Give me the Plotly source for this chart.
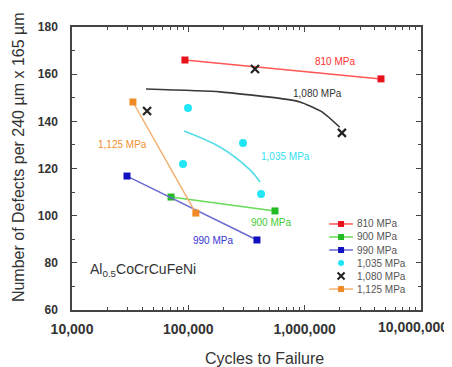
import math
import plotly.graph_objects as go

# ---- data ----
red_x = [93500, 4530000]
red_y = [166.0, 158.0]
green_x = [71000, 556000]
green_y = [107.9, 102.0]
blue_x = [29700, 389000]
blue_y = [116.8, 89.7]
cyan_x = [99300, 90000, 295000, 422000]
cyan_y = [145.7, 121.9, 130.8, 109.2]
cross_x = [44200, 374000, 2090000]
cross_y = [144.4, 162.2, 135.1]
orange_x = [33400, 116000]
orange_y = [148.2, 101.1]
# fitted trend curves drawn in the reference
black_curve_x = [43300, 187000, 339000, 678000, 912000, 1410000, 2000000]
black_curve_y = [153.7, 152.5, 151.2, 149.4, 148.2, 144.0, 137.5]
cyan_curve_x = [91800, 187000, 339000, 413000]
cyan_curve_y = [135.9, 129.1, 119.4, 114.3]

x_tickvals = [1e4, 1e5, 1e6, 1e7]
x_ticktext = ["10,000", "100,000", "1,000,000", "10,000,000"]
y_tickvals = [60, 80, 100, 120, 140, 160, 180]

legend_names = ["810 MPa", "900 MPa", "990 MPa", "1,035 MPa", "1,080 MPa", "1,125 MPa"]

FONT = "Liberation Sans, Arial, sans-serif"
RED_L, RED_M, RED_T = "#ff5555", "#e8101a", "#ff3030"
GRN_L, GRN_M, GRN_T = "#66dd55", "#22bb22", "#44cc33"
BLU_L, BLU_M, BLU_T = "#6a6ad0", "#1010c0", "#3535d5"
CYN_L, CYN_M, CYN_T = "#55dde8", "#22e6f5", "#33e0f0"
BLK_L, BLK_M, BLK_T = "#3a3a3a", "#222222", "#333333"
ORG_L, ORG_M, ORG_T = "#f5b070", "#f08a24", "#f09030"

fig = go.Figure()

def line_marker(x, y, lc, mc, sym="square", size=7):
    fig.add_trace(go.Scatter(x=x, y=y, mode="lines+markers",
                             line=dict(color=lc, width=1.5),
                             marker=dict(symbol=sym, size=size, color=mc),
                             showlegend=False))

line_marker(red_x, red_y, RED_L, RED_M)
line_marker(green_x, green_y, GRN_L, GRN_M)
line_marker(blue_x, blue_y, BLU_L, BLU_M)
line_marker(orange_x, orange_y, ORG_L, ORG_M)

fig.add_trace(go.Scatter(x=black_curve_x, y=black_curve_y, mode="lines",
                         line=dict(color=BLK_L, width=1.6, shape="spline", smoothing=0.6),
                         showlegend=False))
fig.add_trace(go.Scatter(x=cyan_curve_x, y=cyan_curve_y, mode="lines",
                         line=dict(color=CYN_L, width=1.6, shape="spline"),
                         showlegend=False))
fig.add_trace(go.Scatter(x=cyan_x, y=cyan_y, mode="markers",
                         marker=dict(symbol="circle", size=8, color=CYN_M),
                         showlegend=False))
fig.add_trace(go.Scatter(x=cross_x, y=cross_y, mode="markers",
                         marker=dict(symbol="x-thin", size=8,
                                     line=dict(color=BLK_M, width=2.2)),
                         showlegend=False))

# ---- manual compact legend (on an overlay axis spanning the plot area) ----
leg_specs = [
    (legend_names[0], RED_L, RED_M, "square", True),
    (legend_names[1], GRN_L, GRN_M, "square", True),
    (legend_names[2], BLU_L, BLU_M, "square", True),
    (legend_names[3], None, CYN_M, "circle", False),
    (legend_names[4], None, BLK_M, "x-thin", False),
    (legend_names[5], ORG_L, ORG_M, "square", True),
]
leg_top, leg_step = 0.304, 0.046
sym_x, line_x0, line_x1, text_x = 0.771, 0.737, 0.805, 0.812
for i, (name, lc, mc, sym, has_line) in enumerate(leg_specs):
    yy = leg_top - i * leg_step
    if has_line:
        fig.add_trace(go.Scatter(x=[line_x0, line_x1], y=[yy, yy], mode="lines",
                                 line=dict(color=lc, width=1.5),
                                 xaxis="x2", yaxis="y2", showlegend=False,
                                 hoverinfo="skip"))
    mk = dict(symbol=sym, size=6, color=mc)
    if sym == "x-thin":
        mk = dict(symbol=sym, size=7, line=dict(color=mc, width=2))
    fig.add_trace(go.Scatter(x=[sym_x], y=[yy], mode="markers", marker=mk,
                             xaxis="x2", yaxis="y2", showlegend=False,
                             hoverinfo="skip"))
    fig.add_annotation(x=text_x, y=yy, xref="x2", yref="y2", text=name,
                       showarrow=False, xanchor="left", yanchor="middle",
                       font=dict(family=FONT, size=10, color="#555555"))

# ---- in-plot labels ----
def lab(xv, yv, text, color, size=10, anchor="center"):
    fig.add_annotation(x=math.log10(xv), y=yv, xref="x", yref="y", text=text,
                       showarrow=False, xanchor=anchor, yanchor="middle",
                       font=dict(family=FONT, size=size, color=color))

lab(1.82e6, 165.2, "810 MPa", RED_T)
lab(1.30e6, 151.6, "1,080 MPa", BLK_T)
lab(6.78e5, 124.9, "1,035 MPa", CYN_T)
lab(2.74e4, 130.0, "1,125 MPa", ORG_T)
lab(5.14e5, 96.9, "900 MPa", GRN_T)
lab(1.63e5, 89.3, "990 MPa", BLU_T)
lab(1.37e4, 77.0, "Al<sub>0.5</sub>CoCrCuFeNi", "#333333", size=14, anchor="left")

TICKFONT_X = dict(family=FONT, size=14, color="#333333", weight="bold")

# last x tick label is pushed inside the page edge, as in the reference
fig.add_annotation(x=1.083, y=-0.06, xref="paper", yref="paper",
                   text=x_ticktext[-1], showarrow=False,
                   xanchor="right", yanchor="middle", font=TICKFONT_X)

# axis titles
fig.add_annotation(x=0.553, y=-0.17, xref="paper", yref="paper",
                   text="Cycles to Failure", showarrow=False,
                   xanchor="center", yanchor="middle",
                   font=dict(family=FONT, size=16, color="#333333"))
fig.add_annotation(x=-0.155, y=0.54, xref="paper", yref="paper",
                   text="Number of Defects per 240 µm x 165 µm", showarrow=False,
                   textangle=-90, xanchor="center", yanchor="middle",
                   font=dict(family=FONT, size=16, color="#333333"))

axis_common = dict(showline=True, linecolor="#444444", linewidth=1.5,
                   mirror="ticks", ticks="inside", tickcolor="#444444",
                   showgrid=False, zeroline=False)

fig.update_layout(
    width=444, height=359,
    margin=dict(l=64, r=31, t=19, b=57),
    paper_bgcolor="white", plot_bgcolor="white",
    showlegend=False,
    xaxis=dict(type="log", range=[4, 7], tickvals=x_tickvals[:-1],
               ticktext=x_ticktext[:-1],
               ticklen=5, ticklabelstandoff=5,
               tickfont=TICKFONT_X,
               minor=dict(ticks="inside", ticklen=3, tickcolor="#444444",
                          tickvals=[k * 10 ** d for d in (4, 5, 6) for k in range(2, 10)]),
               **axis_common),
    yaxis=dict(range=[60, 180], tickvals=y_tickvals, ticklen=5,
               ticklabelstandoff=10,
               tickfont=dict(family=FONT, size=12, color="#333333", weight="bold"),
               minor=dict(ticks="inside", ticklen=3, dtick=10, tickcolor="#444444"),
               **axis_common),
    xaxis2=dict(overlaying="x", range=[0, 1], visible=False, fixedrange=True),
    yaxis2=dict(overlaying="y", range=[0, 1], visible=False, fixedrange=True),
)

fig.write_html("out.html")
